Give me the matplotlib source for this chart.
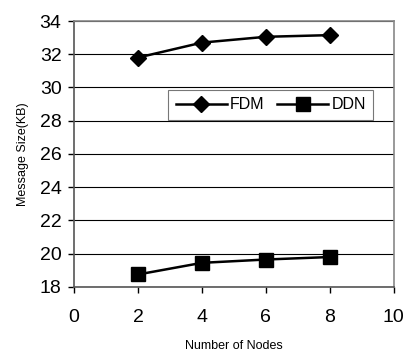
import matplotlib
matplotlib.use("Agg")
import matplotlib.pyplot as plt

nodes = [2, 4, 6, 8]
fdm = [31.8, 32.7, 33.05, 33.15]
ddn = [18.75, 19.45, 19.65, 19.8]
x_ticks = [0, 2, 4, 6, 8, 10]
y_ticks = [18, 20, 22, 24, 26, 28, 30, 32, 34]

plt.rcParams['font.family'] = ['Liberation Sans', 'DejaVu Sans']

fig = plt.figure(figsize=(4.09, 3.56), dpi=100)
ax = fig.add_axes([0.181, 0.194, 0.782, 0.747])

ax.plot(nodes, fdm, color='black', lw=1.8, marker='D', markersize=8, label='FDM', zorder=3)
ax.plot(nodes, ddn, color='black', lw=1.8, marker='s', markersize=10, label='DDN', zorder=3)

ax.set_xlim(0, 10)
ax.set_ylim(18, 34)
ax.set_xticks(x_ticks)
ax.set_yticks(y_ticks)
ax.tick_params(axis='both', labelsize=14, direction='out', length=4, width=1)
ax.tick_params(axis='x', pad=12)
ax.tick_params(axis='y', pad=5)
ax.yaxis.grid(True, color='black', lw=0.8)
ax.set_axisbelow(True)

for s in ['top', 'right']:
    ax.spines[s].set_color('#888888')
    ax.spines[s].set_linewidth(1.2)
for s in ['left', 'bottom']:
    ax.spines[s].set_color('#555555')
    ax.spines[s].set_linewidth(1.2)

ax.set_xlabel('Number of Nodes', fontsize=9, labelpad=10)
ax.set_ylabel('Message Size(KB)', fontsize=9, labelpad=8)

leg = ax.legend(loc='upper right', bbox_to_anchor=(0.96, 0.77), ncol=2, fontsize=11.5,
                frameon=True, fancybox=False, edgecolor='#555555', handlelength=3.2,
                columnspacing=0.8, handletextpad=0.2, borderpad=0.45)
leg.get_frame().set_linewidth(0.8)

fig.savefig('out.png', dpi=100)
